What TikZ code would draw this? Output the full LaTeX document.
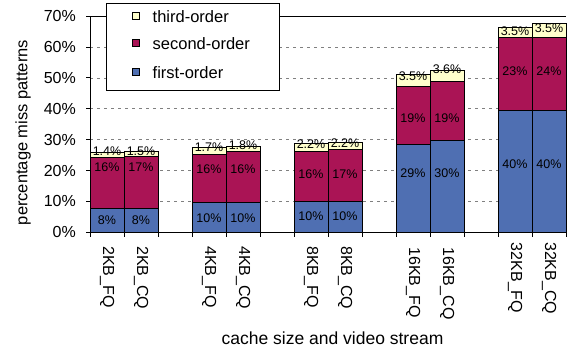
\documentclass[tikz,border=0pt]{standalone}
\usepackage{fontspec}
\setmainfont{Liberation Sans}
\definecolor{firstc}{RGB}{79,111,178}
\definecolor{secondc}{RGB}{170,20,85}
\definecolor{thirdc}{RGB}{255,255,204}
\definecolor{gridc}{RGB}{128,128,128}
\tikzset{
  segbox/.style={draw=black, line width=0.9pt},
  datalbl/.style={inner sep=0pt, font=\fontsize{12.5}{14}\selectfont},
  ticklbl/.style={inner sep=0pt, anchor=east, font=\fontsize{16}{18}\selectfont},
  catlbl/.style={inner sep=0pt, anchor=west, rotate=-90, font=\fontsize{16}{18}\selectfont},
  gridln/.style={draw=gridc, line width=0.6pt, dash pattern=on 3pt off 4pt},
  legsq/.style={draw=black, line width=0.8pt, minimum size=7pt, inner sep=0pt},
  legtxt/.style={inner sep=0pt, anchor=west, font=\fontsize{16.5}{18}\selectfont},
}
\begin{document}
\begin{tikzpicture}[x=1pt, y=-1pt]
\useasboundingbox (0,0) rectangle (575,349);
% grid
\foreach \v in {10,20,30,40,50,60}{
  \pgfmathsetmacro{\yy}{232.3-3.09*\v}
  \draw[gridln] (90,\yy) -- (566,\yy);
}
\draw[black, line width=1pt] (90,16) -- (566,16);
% bars
\foreach \xl/\f/\s/\t/\la/\lb/\lc/\ya/\yb/\yc/\nm/\cat/\cy in {
 90/7.8/16.3/1.7/8\%/16\%/1.4\%/220/167/151/a/2KB\_FQ/246,
 124/7.8/16.9/1.6/8\%/17\%/1.5\%/220/167/151.7/b/2KB\_CQ/246,
 192/9.8/15.5/2.0/10\%/16\%/1.7\%/217.7/168.7/146.7/c/4KB\_FQ/246,
 226/9.8/16.3/1.8/10\%/16\%/1.8\%/217.7/168.7/145.3/d/4KB\_CQ/246,
 294/10.1/16.1/2.6/10\%/16\%/2.2\%/216/174/144/e/8KB\_FQ/246,
 328/10.1/16.6/2.5/10\%/17\%/2.2\%/216/174/143.3/f/8KB\_CQ/246,
 396/28.5/18.8/3.7/29\%/19\%/3.5\%/173.3/117.7/76/g/16KB\_FQ/247.3,
 430/29.6/19.3/3.5/30\%/19\%/3.6\%/173.3/117.7/69.3/h/16KB\_CQ/247.3,
 498/39.5/23.4/3.4/40\%/23\%/3.5\%/164.3/70.7/30.7/i/32KB\_FQ/242.7,
 532/39.5/23.7/4.4/40\%/24\%/3.5\%/164.3/70.7/27.7/j/32KB\_CQ/242}{
  \pgfmathsetmacro{\ya}{232.3}
  \pgfmathsetmacro{\yf}{232.3-3.09*\f}
  \pgfmathsetmacro{\ys}{232.3-3.09*(\f+\s)}
  \pgfmathsetmacro{\yt}{232.3-3.09*(\f+\s+\t)}
  \pgfmathsetmacro{\xr}{\xl+34}
  \pgfmathsetmacro{\xc}{\xl+17}
  \filldraw[segbox, fill=firstc] (\xl,232.3) rectangle (\xr,\yf);
  \filldraw[segbox, fill=secondc] (\xl,\yf) rectangle (\xr,\ys);
  \filldraw[segbox, fill=thirdc] (\xl,\ys) rectangle (\xr,\yt);
}
% data labels (second loop so they sit above all bars)
\foreach \xl/\la/\lb/\lc/\ya/\yb/\yc/\nm/\cat/\cy in {
 90/8\%/16\%/1.4\%/220/167/151/a/2KB\_FQ/246,
 124/8\%/17\%/1.5\%/220/167/151.7/b/2KB\_CQ/246,
 192/10\%/16\%/1.7\%/217.7/168.7/146.7/c/4KB\_FQ/246,
 226/10\%/16\%/1.8\%/217.7/168.7/145.3/d/4KB\_CQ/246,
 294/10\%/16\%/2.2\%/216/174/144/e/8KB\_FQ/246,
 328/10\%/17\%/2.2\%/216/174/143.3/f/8KB\_CQ/246,
 396/29\%/19\%/3.5\%/173.3/117.7/76/g/16KB\_FQ/247.3,
 430/30\%/19\%/3.6\%/173.3/117.7/69.3/h/16KB\_CQ/247.3,
 498/40\%/23\%/3.5\%/164.3/70.7/30.7/i/32KB\_FQ/242.7,
 532/40\%/24\%/3.5\%/164.3/70.7/27.7/j/32KB\_CQ/242}{
  \pgfmathsetmacro{\xc}{\xl+17}
  \node[datalbl] (f\nm) at (\xc,\ya) {\la};
  \node[datalbl] (s\nm) at (\xc,\yb) {\lb};
  \node[datalbl] (t\nm) at (\xc,\yc) {\lc};
  \node[catlbl] (c\nm) at (\xc,\cy) {\cat};
}
% axes
\draw[black, line width=1pt] (90,16) -- (90,232.3) -- (566,232.3);
\foreach \v in {0,10,...,70}{
  \pgfmathsetmacro{\yy}{232.3-3.09*\v}
  \draw[black, line width=0.8pt] (86,\yy) -- (90,\yy);
  \node[ticklbl] (y\v) at (76,\yy) {\v\%};
}
\foreach \k in {0,...,14}{
  \pgfmathsetmacro{\xx}{90+34*\k}
  \draw[black, line width=0.8pt] (\xx,232.3) -- (\xx,236.5);
}
% axis titles
\node[inner sep=0pt, rotate=90, font=\fontsize{16.5}{18}\selectfont] (ytitle) at (23,132.5) {percentage miss patterns};
\node[inner sep=0pt, font=\fontsize{17.5}{20}\selectfont] (xtitle) at (332.5,338.5) {cache size and video stream};
% legend
\node[draw=black, line width=0.9pt, fill=white, minimum width=173pt, minimum height=86.5pt, inner sep=0pt] (legend) at (193,46.75) {};
\node[legsq, fill=thirdc] (sq3) at (135.8,16) {};
\node[legsq, fill=secondc] (sq2) at (135.8,43.3) {};
\node[legsq, fill=firstc] (sq1) at (135.8,71.7) {};
\node[legtxt] (lt3) at (152.5,16.5) {third-order};
\node[legtxt] (lt2) at (152.5,43.8) {second-order};
\node[legtxt] (lt1) at (152.5,72.2) {first-order};
\end{tikzpicture}
\end{document}
